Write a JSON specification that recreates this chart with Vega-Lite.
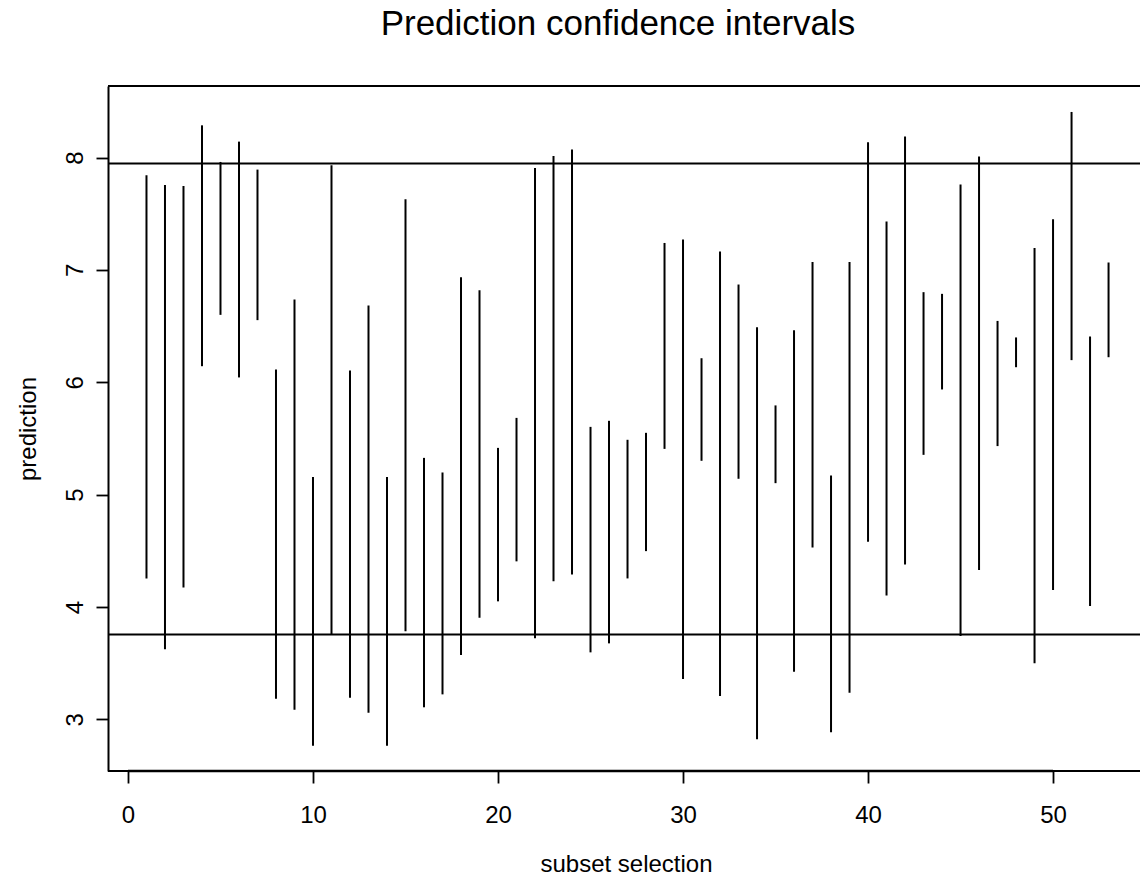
{
  "$schema": "https://vega.github.io/schema/vega-lite/v6.json",
  "autosize": {"type": "none"},
  "width": 1032,
  "height": 685,
  "padding": {"left": 108, "top": 86, "right": 0, "bottom": 105},
  "background": "white",
  "config": {
    "view": {"stroke": null},
    "font": "Liberation Sans",
    "axis": {"grid": false, "labelFont": "Liberation Sans", "titleFont": "Liberation Sans", "labelColor": "black", "titleColor": "black", "tickColor": "black", "domainColor": "black"}
  },
  "title": {"text": "Prediction confidence intervals", "fontSize": 35, "font": "Liberation Sans", "fontWeight": "normal", "color": "black", "anchor": "middle", "frame": "group", "offset": 43, "dx": -6},
  "data": {"values": [
    {"i": 1, "lo": 4.254, "hi": 7.843},
    {"i": 2, "lo": 3.623, "hi": 7.756},
    {"i": 3, "lo": 4.174, "hi": 7.747},
    {"i": 4, "lo": 6.143, "hi": 8.287},
    {"i": 5, "lo": 6.600, "hi": 7.961},
    {"i": 6, "lo": 6.043, "hi": 8.142},
    {"i": 7, "lo": 6.553, "hi": 7.893},
    {"i": 8, "lo": 3.183, "hi": 6.114},
    {"i": 9, "lo": 3.085, "hi": 6.737},
    {"i": 10, "lo": 2.765, "hi": 5.156},
    {"i": 11, "lo": 3.750, "hi": 7.931},
    {"i": 12, "lo": 3.192, "hi": 6.105},
    {"i": 13, "lo": 3.059, "hi": 6.683},
    {"i": 14, "lo": 2.765, "hi": 5.156},
    {"i": 15, "lo": 3.783, "hi": 7.629},
    {"i": 16, "lo": 3.107, "hi": 5.327},
    {"i": 17, "lo": 3.222, "hi": 5.197},
    {"i": 18, "lo": 3.572, "hi": 6.935},
    {"i": 19, "lo": 3.904, "hi": 6.819},
    {"i": 20, "lo": 4.050, "hi": 5.416},
    {"i": 21, "lo": 4.406, "hi": 5.683},
    {"i": 22, "lo": 3.721, "hi": 7.907},
    {"i": 23, "lo": 4.228, "hi": 8.014},
    {"i": 24, "lo": 4.290, "hi": 8.071},
    {"i": 25, "lo": 3.596, "hi": 5.603},
    {"i": 26, "lo": 3.676, "hi": 5.657},
    {"i": 27, "lo": 4.254, "hi": 5.488},
    {"i": 28, "lo": 4.497, "hi": 5.550},
    {"i": 29, "lo": 5.407, "hi": 7.240},
    {"i": 30, "lo": 3.359, "hi": 7.270},
    {"i": 31, "lo": 5.301, "hi": 6.214},
    {"i": 32, "lo": 3.207, "hi": 7.164},
    {"i": 33, "lo": 5.141, "hi": 6.870},
    {"i": 34, "lo": 2.822, "hi": 6.490},
    {"i": 35, "lo": 5.102, "hi": 5.794},
    {"i": 36, "lo": 3.424, "hi": 6.464},
    {"i": 37, "lo": 4.530, "hi": 7.071},
    {"i": 38, "lo": 2.884, "hi": 5.171},
    {"i": 39, "lo": 3.237, "hi": 7.071},
    {"i": 40, "lo": 4.580, "hi": 8.136},
    {"i": 41, "lo": 4.103, "hi": 7.431},
    {"i": 42, "lo": 4.379, "hi": 8.187},
    {"i": 43, "lo": 5.354, "hi": 6.802},
    {"i": 44, "lo": 5.936, "hi": 6.787},
    {"i": 45, "lo": 3.741, "hi": 7.760},
    {"i": 46, "lo": 4.328, "hi": 8.009},
    {"i": 47, "lo": 5.432, "hi": 6.546},
    {"i": 48, "lo": 6.134, "hi": 6.399},
    {"i": 49, "lo": 3.498, "hi": 7.196},
    {"i": 50, "lo": 4.150, "hi": 7.451},
    {"i": 51, "lo": 6.197, "hi": 8.406},
    {"i": 52, "lo": 4.008, "hi": 6.407},
    {"i": 53, "lo": 6.223, "hi": 7.066}
  ]},
  "layer": [
    {
      "mark": {"type": "rule", "color": "black", "strokeWidth": 2},
      "encoding": {
        "x": {"field": "i", "type": "quantitative", "title": "subset selection", "scale": {"domain": [-1.08, 54.7], "nice": false, "zero": false},
          "axis": {"values": [0, 10, 20, 30, 40, 50], "format": "d", "title": "subset selection", "domain": false, "tickSize": 12, "tickWidth": 1.8, "labelFontSize": 24, "labelBaseline": "alphabetic", "labelPadding": 39, "labelFlush": false, "labelOverlap": false, "titleFontSize": 24, "titleFontWeight": "normal", "titleBaseline": "alphabetic", "titleAlign": "center", "titleX": 518, "titleY": 100}},
        "y": {"field": "lo", "type": "quantitative", "title": "prediction", "scale": {"domain": [2.54, 8.637], "nice": false, "zero": false},
          "axis": {"values": [3, 4, 5, 6, 7, 8], "format": "d", "title": "prediction", "domain": true, "domainWidth": 2, "tickSize": 12, "tickWidth": 1.8, "labelFontSize": 24, "labelAngle": -90, "labelAlign": "center", "labelBaseline": "alphabetic", "labelPadding": 14, "labelOverlap": false, "labelFlush": false, "titleFontSize": 24, "titleFontWeight": "normal", "titleAngle": -90, "titleBaseline": "alphabetic", "titleAlign": "center", "titleX": -73, "titleY": 342.5}},
        "y2": {"field": "hi"}
      }
    },
    {
      "data": {"values": [{"level": 7.947}, {"level": 3.756}]},
      "mark": {"type": "rule", "color": "black", "strokeWidth": 2},
      "encoding": {
        "y": {"field": "level", "type": "quantitative", "title": "prediction", "scale": {"domain": [2.54, 8.637], "nice": false, "zero": false}}
      }
    },
    {
      "data": {"values": [{"edge": 8.637}, {"edge": 2.54}]},
      "mark": {"type": "rule", "color": "black", "strokeWidth": 2},
      "encoding": {
        "y": {"field": "edge", "type": "quantitative", "title": "prediction", "scale": {"domain": [2.54, 8.637], "nice": false, "zero": false}}
      }
    },
    {
      "data": {"values": [{"from": 0, "to": 50, "base": 2.54}]},
      "mark": {"type": "rule", "color": "black", "strokeWidth": 2.6},
      "encoding": {
        "x": {"field": "from", "type": "quantitative", "title": "subset selection", "scale": {"domain": [-1.08, 54.7], "nice": false, "zero": false}},
        "x2": {"field": "to"},
        "y": {"field": "base", "type": "quantitative", "title": "prediction", "scale": {"domain": [2.54, 8.637], "nice": false, "zero": false}}
      }
    }
  ]
}
